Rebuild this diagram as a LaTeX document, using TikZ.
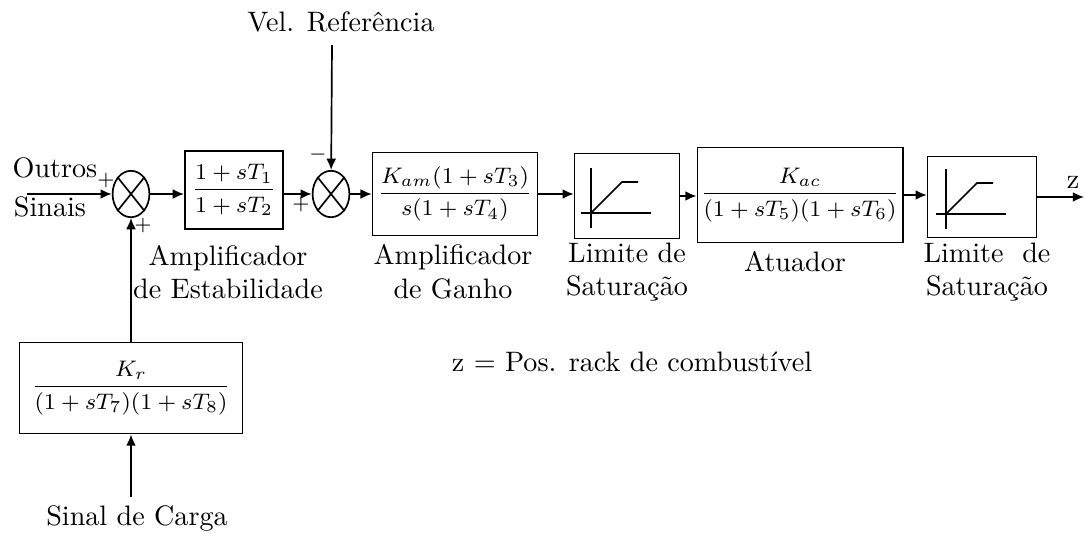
\documentclass[tikz,border=0pt]{standalone}
\usepackage{amsmath}
\usetikzlibrary{arrows.meta,shapes.geometric}

\begin{document}
\begin{tikzpicture}[
    x=0.0125cm, y=-0.0125cm,
    blk/.style={draw, semithick, inner sep=1pt, font=\footnotesize},
    sumj/.style={draw, semithick, ellipse, minimum width=0.46cm, minimum height=0.58cm, inner sep=0pt},
    arr/.style={semithick, -{Latex[length=4pt,width=3.5pt]}},
    lbl/.style={font=\normalsize, align=center},
    sgn/.style={font=\scriptsize, inner sep=0pt},
]
\useasboundingbox (0,0) rectangle (1085,533);

% summing junctions
\node[sumj] (s1) at (131,194) {};
\node[sumj] (s2) at (331,194) {};
\foreach \s in {s1,s2} {
    \draw[semithick] (\s.north east) -- (\s.south west);
    \draw[semithick] (\s.north west) -- (\s.south east);
}

% blocks of the main chain
\node[blk, minimum width=1.23cm, minimum height=0.98cm] (stab) at (234,190)
    {$\dfrac{1+sT_1}{1+sT_2}$};
\node[blk, minimum width=2.06cm, minimum height=1.04cm] (gain) at (455,194)
    {$\dfrac{K_{am}(1+sT_3)}{s(1+sT_4)}$};
\node[blk, minimum width=1.31cm, minimum height=1.06cm] (lim1) at (627,196) {};
\node[blk, minimum width=2.44cm, minimum height=1.19cm] (act) at (800,195)
    {$\dfrac{K_{ac}}{(1+sT_5)(1+sT_6)}$};
\node[blk, minimum width=1.36cm, minimum height=1.01cm] (lim2) at (982,197) {};

% load filter block
\node[blk, minimum width=2.79cm, minimum height=1.14cm] (load) at (131,388)
    {$\dfrac{K_r}{(1+sT_7)(1+sT_8)}$};

% saturation symbols
\foreach \b in {lim1,lim2} {
    \begin{scope}[shift={(\b.center)}]
        \draw[semithick] (-36,-28) -- (-36,32);
        \draw[semithick] (-46,17) -- (24,17);
        \draw[semithick] (-36,17) -- (-5,-14) -- (11,-14);
    \end{scope}
}

% free ends
\coordinate (in1) at (27,194);
\coordinate (ref) at (332,45);
\coordinate (out) at (1084,197);
\coordinate (ld) at (131,497);

% connectors
\draw[arr] (in1) -- (s1);
\draw[arr] (s1) -- (s1 -| stab.west);
\draw[arr] (stab.east |- s2) -- (s2);
\draw[arr] (ref) -- (s2);
\draw[arr] (s2) -- (gain);
\draw[arr] (gain) -- (gain -| lim1.west);
\draw[arr] (lim1) -- (lim1 -| act.west);
\draw[arr] (act) -- (act -| lim2.west);
\draw[arr] (lim2) -- (out);
\draw[arr] (load) -- (s1);
\draw[arr] (ld) -- (load);

% signs
\node[sgn] (p1) at (106,181) {$+$};
\node[sgn] (p2) at (143,226) {$+$};
\node[sgn] (m3) at (318,155) {$-$};
\node[sgn] (p3) at (301,205) {$+$};

% texts
\node[lbl] (tout) at (55,168) {Outros};
\node[lbl] (tsin) at (50,207) {Sinais};
\node[lbl] (tref) at (341,22) {Vel. Referência};
\node[lbl] (tstab) at (228,272) {Amplificador\\de Estabilidade};
\node[lbl] (tgain) at (453,272) {Amplificador\\de Ganho};
\node[lbl] (tlim1) at (627,272) {Limite de\\Saturação};
\node[lbl] (tact) at (795,262) {Atuador};
\node[lbl] (tlim2) at (987,272) {Limite~~de\\Saturação};
\node[lbl] (tz) at (1073,182) {z};
\node[lbl] (tpos) at (632,362) {z $=$ Pos. rack de combustível};
\node[lbl] (tcar) at (137,518) {Sinal de Carga};

\end{tikzpicture}
\end{document}
